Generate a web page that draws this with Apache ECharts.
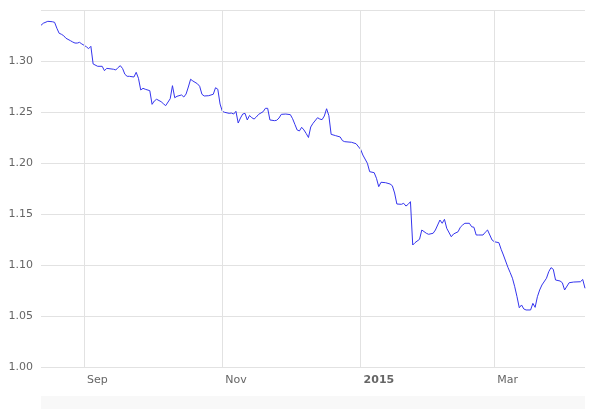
<!DOCTYPE html>
<html>
<head>
<meta charset="utf-8">
<script src="https://cdn.jsdelivr.net/npm/echarts@6/dist/echarts.min.js"></script>
<style>html,body{margin:0;padding:0;background:#fff}#c{width:597px;height:409px}</style>
</head>
<body>
<div id="c"></div>
<script>
const dates = [
'2014-08-13','2014-08-14','2014-08-16','2014-08-18','2014-08-19','2014-08-20','2014-08-21','2014-08-22','2014-08-23','2014-08-24',
'2014-08-26','2014-08-27','2014-08-28','2014-08-29','2014-08-30','2014-08-31',
'2014-09-01','2014-09-02','2014-09-03','2014-09-04','2014-09-05','2014-09-07','2014-09-09','2014-09-10','2014-09-11','2014-09-12',
'2014-09-14','2014-09-15','2014-09-16','2014-09-17','2014-09-18','2014-09-19','2014-09-20','2014-09-21','2014-09-23','2014-09-24',
'2014-09-25','2014-09-26','2014-09-27','2014-09-28','2014-09-30',
'2014-10-01','2014-10-02','2014-10-03','2014-10-05','2014-10-06','2014-10-07','2014-10-09','2014-10-10','2014-10-11','2014-10-12',
'2014-10-14','2014-10-15','2014-10-16','2014-10-17','2014-10-18','2014-10-19','2014-10-21','2014-10-22','2014-10-23','2014-10-24',
'2014-10-26','2014-10-28','2014-10-29','2014-10-30','2014-10-31',
'2014-11-01','2014-11-02','2014-11-04','2014-11-05','2014-11-06','2014-11-07','2014-11-08','2014-11-09','2014-11-10','2014-11-11',
'2014-11-12','2014-11-13','2014-11-14','2014-11-15','2014-11-16','2014-11-17','2014-11-19','2014-11-20','2014-11-21','2014-11-22',
'2014-11-24','2014-11-25','2014-11-26','2014-11-27','2014-11-29',
'2014-12-01','2014-12-02','2014-12-03','2014-12-04','2014-12-05','2014-12-06','2014-12-07','2014-12-08','2014-12-09','2014-12-10',
'2014-12-11','2014-12-13','2014-12-14','2014-12-15','2014-12-16','2014-12-17','2014-12-18','2014-12-19','2014-12-21','2014-12-23',
'2014-12-24','2014-12-25','2014-12-28','2014-12-30',
'2015-01-01','2015-01-02','2015-01-04','2015-01-05','2015-01-07','2015-01-08','2015-01-09','2015-01-10','2015-01-12','2015-01-14',
'2015-01-15','2015-01-16','2015-01-17','2015-01-19','2015-01-20','2015-01-21','2015-01-22','2015-01-23','2015-01-24','2015-01-25',
'2015-01-27','2015-01-28','2015-01-30','2015-01-31',
'2015-02-02','2015-02-03','2015-02-05','2015-02-06','2015-02-07','2015-02-08','2015-02-10','2015-02-11','2015-02-13','2015-02-14',
'2015-02-15','2015-02-16','2015-02-18','2015-02-19','2015-02-20','2015-02-21','2015-02-22','2015-02-24','2015-02-25','2015-02-26',
'2015-02-27','2015-02-28',
'2015-03-01','2015-03-03','2015-03-04','2015-03-05','2015-03-07','2015-03-08','2015-03-09','2015-03-10','2015-03-11','2015-03-12',
'2015-03-13','2015-03-14','2015-03-15','2015-03-17','2015-03-18','2015-03-19','2015-03-20','2015-03-21','2015-03-22','2015-03-24',
'2015-03-25','2015-03-26','2015-03-27','2015-03-28','2015-03-30','2015-03-31',
'2015-04-01','2015-04-03','2015-04-05','2015-04-08','2015-04-09','2015-04-10'
];
const rates = [
1.3350,1.3370,1.3389,1.3385,1.3379,1.3321,1.3272,1.3262,1.3248,1.3223,
1.3199,1.3186,1.3176,1.3176,1.3183,1.3167,
1.3154,1.3140,1.3121,1.3144,1.2971,1.2948,1.2948,1.2905,1.2928,1.2925,
1.2919,1.2912,1.2936,1.2954,1.2926,1.2870,1.2850,1.2850,1.2843,1.2889,
1.2830,1.2716,1.2732,1.2723,1.2709,
1.2575,1.2608,1.2625,1.2601,1.2581,1.2562,1.2630,1.2758,1.2640,1.2654,
1.2667,1.2647,1.2676,1.2745,1.2821,1.2804,1.2777,1.2752,1.2674,1.2657,
1.2660,1.2674,1.2738,1.2723,1.2578,
1.2507,1.2497,1.2487,1.2490,1.2480,1.2507,1.2392,1.2441,1.2480,1.2487,
1.2422,1.2466,1.2444,1.2431,1.2451,1.2477,1.2503,1.2536,1.2536,1.2422,
1.2415,1.2419,1.2441,1.2477,1.2480,
1.2474,1.2434,1.2379,1.2324,1.2314,1.2350,1.2324,1.2289,1.2250,1.2353,
1.2389,1.2444,1.2431,1.2425,1.2461,1.2532,1.2464,1.2281,1.2268,1.2255,
1.2219,1.2209,1.2203,1.2189,
1.2134,1.2078,1.1997,1.1915,1.1905,1.1850,1.1768,1.1811,1.1807,1.1794,
1.1777,1.1706,1.1598,1.1595,1.1605,1.1578,1.1595,1.1621,1.1196,1.1219,
1.1252,1.1343,1.1311,1.1301,
1.1311,1.1343,1.1441,1.1409,1.1448,1.1360,1.1277,1.1304,1.1326,1.1370,
1.1392,1.1409,1.1409,1.1375,1.1370,1.1294,1.1294,1.1294,1.1321,1.1343,
1.1294,1.1245,
1.1228,1.1219,1.1154,1.1098,1.0977,1.0925,1.0870,1.0787,1.0689,1.0581,
1.0608,1.0569,1.0559,1.0559,1.0624,1.0585,1.0689,1.0755,1.0804,1.0870,
1.0934,1.0974,1.0958,1.0853,1.0843,1.0826,
1.0755,1.0826,1.0833,1.0836,1.0858,1.0772
];
const xTickDates = ['2014-09-01','2014-11-01','2015-01-01','2015-03-01'];
const xTickLabels = ['Sep','Nov','2015','Mar'];
const xStart = '2014-08-13';
const xEnd = '2015-04-10';

function ts(s){ return Date.UTC(+s.slice(0,4), +s.slice(5,7) - 1, +s.slice(8,10)); }
const tickTs = xTickDates.map(ts);
const labelMap = {};
tickTs.forEach((t,i)=>{ labelMap[t] = xTickLabels[i]; });
const seriesData = dates.map((d,i)=>[ts(d), rates[i]]);

const FONT = 'DejaVu Sans';
const chart = echarts.init(document.getElementById('c'), null, {renderer:'canvas'});
chart.setOption({
  animation: false,
  backgroundColor: '#fff',
  grid: {left: 41, right: 12, top: 10, bottom: 42, containLabel: false},
  xAxis: {
    type: 'value',
    min: ts(xStart),
    max: ts(xEnd),
    axisLine: {show: false},
    axisTick: {show: false},
    splitLine: {show: false},
    axisLabel: {
      customValues: tickTs,
      margin: 8,
      align: 'left',
      padding: [0,0,0,3],
      color: '#666',
      fontFamily: FONT,
      fontSize: 11,
      formatter: function(v){
        const l = labelMap[v] || '';
        return /^\d{4}$/.test(l) ? '{b|' + l + '}' : l;
      },
      rich: { b: {fontWeight: 'bold', color: '#666', fontFamily: FONT, fontSize: 11} }
    }
  },
  yAxis: {
    type: 'value',
    min: 1.00, max: 1.35, interval: 0.05,
    axisLine: {show: false},
    axisTick: {show: false},
    splitLine: {show: true, lineStyle: {color: '#e2e2e2', width: 1}},
    axisLabel: {
      showMaxLabel: false,
      margin: 8,
      color: '#666',
      fontFamily: FONT,
      fontSize: 11,
      formatter: v => v.toFixed(2)
    }
  },
  series: [{
    type: 'line',
    data: seriesData,
    showSymbol: false,
    symbol: 'none',
    lineStyle: {color: '#3535ee', width: 1},
    z: 3,
    markLine: {
      silent: true,
      symbol: ['none','none'],
      label: {show: false},
      lineStyle: {color: '#e2e2e2', type: 'solid', width: 1},
      emphasis: {disabled: true},
      data: tickTs.map(t => ({xAxis: t}))
    }
  }],
  graphic: [{
    type: 'rect',
    shape: {x: 41, y: 396, width: 544, height: 13},
    style: {fill: '#f8f8f8'},
    silent: true
  }]
});
</script>
</body>
</html>
